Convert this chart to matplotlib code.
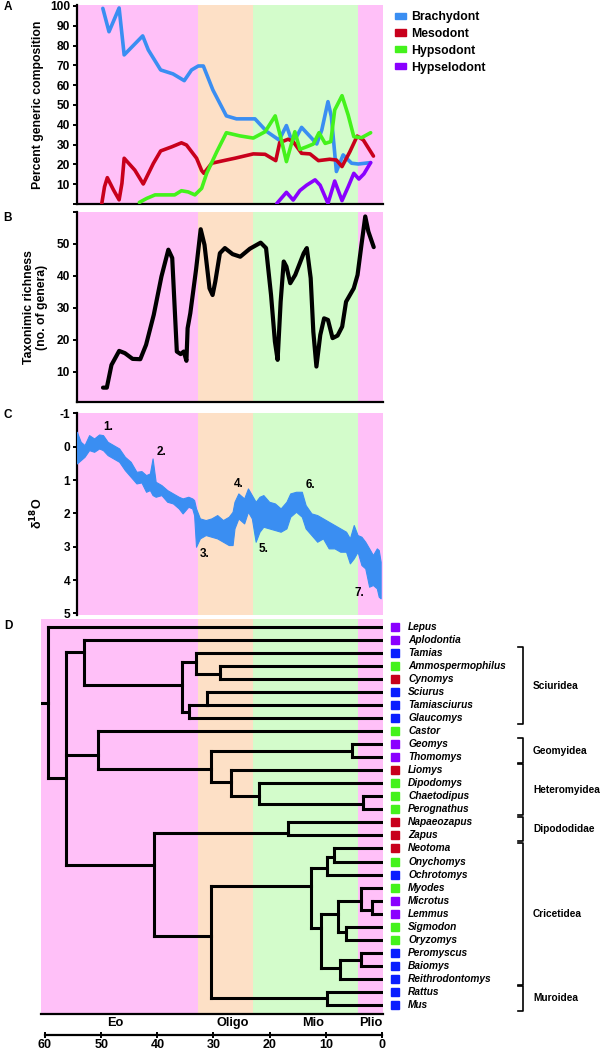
import matplotlib
matplotlib.use("Agg")
import matplotlib.pyplot as plt
from matplotlib.patches import Patch
from matplotlib.transforms import blended_transform_factory

plt.rcParams['font.family'] = ['Liberation Sans', 'DejaVu Sans']
plt.rcParams['font.weight'] = 'bold'
plt.rcParams['axes.labelweight'] = 'bold'
plt.rcParams['axes.unicode_minus'] = False

# epoch shading (Ma)
pink = '#ffc0f8'
peach = '#fde0c6'
mint = '#d3fccb'
epoch_bounds = [32.8, 23.0, 4.3]
epoch_names = ['Eo', 'Oligo', 'Mio', 'Plio']
epoch_label_t = [47.5, 26.5, 12.3, 2.0]

# ---- A: percent generic composition
brachy_t = [49.7, 48.6, 46.8, 45.9, 42.6, 41.6, 39.4, 37.2, 35.2, 33.9, 32.7, 31.8, 30.1, 27.7, 25.9,
            22.6, 20.5, 18.3, 17.0, 16.1, 15.2, 14.3, 12.5, 11.6, 10.7, 9.6, 9.0, 8.1, 6.9, 5.4, 4.2, 2.0]
brachy_v = [98.8, 87, 99, 75.3, 84.9, 77.8, 67.7, 65.7, 62.3, 67.7, 69.7, 69.7, 57.6, 44.5, 43.0,
            43.0, 36.6, 32.3, 39.6, 32.3, 34.0, 38.7, 33.2, 30.3, 37.4, 51.7, 44.1, 16.4, 24.8, 20.6, 20.2, 20.9]
meso_t = [49.9, 49.4, 48.9, 47.8, 46.8, 46.3, 45.9, 44.0, 42.5, 40.7, 39.4, 37.4, 35.7, 34.8, 33.0, 32.1,
          31.7, 30.3, 27.7, 26.2, 22.9, 20.8, 18.9, 18.2, 16.7, 15.8, 14.3, 12.8, 11.3, 9.3, 8.1, 7.1,
          5.7, 4.4, 3.3, 1.5]
meso_v = [0.0, 8.7, 13.3, 7.1, 2.1, 10.4, 23.1, 17.1, 10.1, 20.5, 26.8, 28.9, 30.9, 29.8, 23.1, 16.9,
          15.5, 20.6, 22.2, 23.1, 25.3, 25.1, 21.9, 31.0, 32.7, 31.5, 25.6, 25.3, 21.9, 22.6, 22.2, 18.9,
          26.4, 34.3, 32.3, 24.2]
hypso_t = [43.2, 41.9, 40.4, 36.9, 35.7, 34.5, 33.3, 32.1, 31.2, 29.4, 27.7, 25.3, 22.9, 20.8, 19.0,
           17.9, 17.0, 15.5, 14.6, 13.4, 12.2, 11.2, 10.1, 9.1, 8.4, 7.1, 6.0, 5.0, 3.6, 2.0]
hypso_v = [0.8, 2.8, 4.6, 4.6, 6.7, 6.1, 4.6, 7.9, 15.5, 26.4, 36.0, 34.4, 33.3, 36.5, 44.5,
           32.3, 21.4, 36.5, 27.6, 28.9, 30.3, 36.0, 30.6, 31.5, 47.5, 54.7, 44.9, 34.0, 33.5, 36.0]
hypsel_t = [18.7, 17.0, 15.8, 14.6, 13.4, 11.9, 11.0, 9.6, 8.4, 7.1, 6.0, 5.0, 4.1, 3.2, 2.0]
hypsel_v = [0.3, 5.9, 2.0, 6.8, 9.5, 12.2, 9.5, 0.3, 11.6, 1.7, 8.7, 15.5, 12.6, 15.2, 20.9]
crown_names = ['Brachydont', 'Mesodont', 'Hypsodont', 'Hypselodont']
crown_colors = ['#3a8ef2', '#c8001c', '#44f21c', '#8a00ff']
tip_square_colors = {'B': '#0a1eff', 'M': '#c8001c', 'H': '#44f21c', 'S': '#8a00ff'}

# ---- B: taxonomic richness
rich_t = [49.67, 48.99, 48.16, 46.79, 45.77, 44.40, 43.03, 42.00, 40.63, 39.26, 38.03, 37.34, 36.52,
          35.84, 35.29, 34.81, 34.60, 34.12, 33.10, 32.27, 31.59, 30.70, 30.15, 29.67, 28.85, 27.96,
          26.59, 25.22, 23.51, 21.59, 20.63, 19.74, 19.05, 18.57, 18.03, 17.48, 17.00, 16.32, 15.43,
          13.92, 13.37, 12.68, 12.21, 11.66, 10.97, 10.29, 9.60, 8.78, 7.89, 7.07, 6.38, 5.01, 4.33,
          3.64, 2.96, 2.41, 1.45]
rich_v = [5.0, 5.0, 12.1, 16.5, 15.8, 14.0, 13.9, 18.4, 27.8, 39.8, 48.2, 45.6, 16.3,
          15.5, 16.3, 13.4, 23.6, 28.3, 41.9, 54.6, 49.7, 36.1, 34.0, 38.2, 47.1, 48.7,
          46.8, 46.0, 48.5, 50.4, 48.7, 34.0, 19.4, 13.7, 31.9, 44.5, 42.9, 37.7, 40.3,
          47.1, 48.7, 39.3, 22.5, 11.6, 21.5, 26.7, 26.2, 20.5, 21.3, 24.1, 31.9, 36.1, 40.3,
          49.7, 58.6, 53.9, 49.0]

# ---- C: d18O envelope (upper / lower edge of the record)
d18_t = [54.33, 53.64, 52.96, 52.14, 51.25, 50.36, 49.67, 48.84, 47.82, 46.79, 45.77, 44.74, 43.71,
         42.82, 42.00, 41.32, 40.84, 40.29, 39.26, 38.23, 37.21, 36.18, 35.49, 34.47, 33.78, 33.44,
         33.10, 32.41, 31.38, 30.36, 29.33, 28.30, 27.27, 26.59, 26.25, 25.56, 24.53, 23.85, 23.16,
         22.48, 21.79, 21.11, 20.08, 19.05, 18.03, 17.00, 16.32, 15.29, 14.26, 13.58, 12.55, 11.52,
         10.49, 9.47, 8.44, 7.41, 6.38, 5.70, 5.01, 4.33, 3.64, 2.96, 2.27, 1.59, 0.90, 0.56, 0.22]
d18_top = [-0.45, -0.15, -0.05, -0.35, -0.25, -0.37, -0.35, -0.15, -0.05, 0.05, 0.30, 0.45, 0.75,
           0.73, 0.85, 0.80, 0.35, 1.05, 1.15, 1.30, 1.40, 1.50, 1.55, 1.50, 1.55, 1.60,
           1.85, 2.15, 2.20, 2.15, 2.05, 2.20, 2.10, 1.95, 1.65, 1.40, 1.55, 1.25, 1.45,
           1.65, 1.50, 1.45, 1.65, 1.70, 1.85, 1.65, 1.40, 1.35, 1.35, 1.75, 2.00, 2.05,
           2.15, 2.25, 2.35, 2.45, 2.55, 2.75, 2.35, 2.65, 2.70, 2.85, 3.05, 3.25, 3.05, 3.10, 3.45]
d18_bot = [0.50, 0.40, 0.30, 0.10, 0.15, 0.05, 0.10, 0.25, 0.35, 0.45, 0.70, 0.90, 1.10,
           1.07, 1.35, 1.30, 1.45, 1.50, 1.45, 1.65, 1.70, 1.85, 2.00, 1.80, 1.85, 2.05,
           3.00, 2.75, 2.65, 2.70, 2.75, 2.85, 2.95, 2.95, 2.45, 2.15, 2.30, 1.95, 2.15,
           2.85, 2.55, 2.40, 2.45, 2.50, 2.55, 2.45, 2.10, 1.95, 2.10, 2.45, 2.65, 2.85,
           2.75, 3.05, 3.05, 3.15, 3.15, 3.50, 3.35, 3.15, 3.55, 3.65, 4.20, 4.15, 4.25, 4.50, 4.55]
event_labels = ['1.', '2.', '3.', '4.', '5.', '6.', '7.']
event_t = [48.8, 39.3, 31.5, 25.5, 21.1, 12.7, 4.0]
event_v = [-0.6, 0.15, 3.23, 1.13, 3.07, 1.15, 4.4]

# ---- D: phylogeny
tips = ['Lepus', 'Aplodontia', 'Tamias', 'Ammospermophilus', 'Cynomys', 'Sciurus', 'Tamiasciurus',
        'Glaucomys', 'Castor', 'Geomys', 'Thomomys', 'Liomys', 'Dipodomys', 'Chaetodipus',
        'Perognathus', 'Napaeozapus', 'Zapus', 'Neotoma', 'Onychomys', 'Ochrotomys', 'Myodes',
        'Microtus', 'Lemmus', 'Sigmodon', 'Oryzomys', 'Peromyscus', 'Baiomys', 'Reithrodontomys',
        'Rattus', 'Mus']
tip_crown = ['S', 'S', 'B', 'H', 'M', 'B', 'B', 'B', 'H', 'S', 'S', 'M', 'H', 'H', 'H', 'M', 'M',
             'M', 'H', 'B', 'H', 'S', 'S', 'H', 'H', 'B', 'B', 'B', 'B', 'B']
# node: (age Ma, row position of its branch, children)
nodes = {
    'root': (59.45, 5.83, ['Lepus', 'N1']),
    'N1': (56.25, 11.61, ['N2', 'N9', 'N3']),
    'N2': (53.1, 1.90, ['Aplodontia', 'N4']),
    'N4': (35.6, 4.45, ['N5', 'N6']),
    'N5': (33.1, 2.66, ['Tamias', 'N7']),
    'N7': (28.8, 3.63, ['Ammospermophilus', 'Cynomys']),
    'N6': (34.3, 6.50, ['N8', 'Glaucomys']),
    'N8': (31.2, 5.99, ['Sciurus', 'Tamiasciurus']),
    'N9': (50.6, 9.82, ['Castor', 'N10']),
    'N10': (30.4, 10.90, ['N11', 'N12']),
    'N11': (5.4, 9.52, ['Geomys', 'Thomomys']),
    'N12': (26.9, 11.87, ['Liomys', 'N13']),
    'N13': (21.8, 12.97, ['Dipodomys', 'N14']),
    'N14': (3.4, 13.61, ['Chaetodipus', 'Perognathus']),
    'N3': (40.6, 18.27, ['N15', 'N16']),
    'N15': (16.7, 15.81, ['Napaeozapus', 'Zapus']),
    'N16': (30.4, 23.71, ['N17', 'N18']),
    'N18': (9.8, 28.5, ['Rattus', 'Mus']),
    'N17': (12.6, 19.88, ['N19', 'N20']),
    'N19': (9.8, 18.52, ['N21', 'Ochrotomys']),
    'N21': (8.6, 17.63, ['Neotoma', 'Onychomys']),
    'N20': (10.8, 23.08, ['N22', 'N23']),
    'N22': (7.8, 22.05, ['N24', 'N25']),
    'N24': (3.8, 21.0, ['Myodes', 'N26']),
    'N26': (1.7, 21.72, ['Microtus', 'Lemmus']),
    'N25': (6.4, 23.38, ['Sigmodon', 'Oryzomys']),
    'N23': (7.4, 26.19, ['N27', 'Reithrodontomys']),
    'N27': (3.8, 25.56, ['Peromyscus', 'Baiomys']),
}
clades = ['Sciuridea', 'Geomyidea', 'Heteromyidea', 'Dipododidae', 'Cricetidea', 'Muroidea']
clade_rows = [(2, 7), (9, 10), (11, 14), (15, 16), (17, 27), (28, 29)]
time_ticks = [60, 50, 40, 30, 20, 10, 0]


def shade(ax):
    ax.axvspan(70, epoch_bounds[0], color=pink, lw=0, zorder=0)
    ax.axvspan(epoch_bounds[0], epoch_bounds[1], color=peach, lw=0, zorder=0)
    ax.axvspan(epoch_bounds[1], epoch_bounds[2], color=mint, lw=0, zorder=0)
    ax.axvspan(epoch_bounds[2], -5, color=pink, lw=0, zorder=0)


def style_left(ax, bottom=True):
    for s in ['top', 'right']:
        ax.spines[s].set_visible(False)
    ax.spines['bottom'].set_visible(bottom)
    ax.spines['left'].set_linewidth(1.6)
    ax.spines['bottom'].set_linewidth(1.6)
    ax.set_xticks([])
    ax.tick_params(axis='y', length=3, width=1.4, labelsize=8.6, pad=2)
    plt.setp(ax.get_yticklabels(), fontweight='bold')


W, H = 600.0, 1050.0
fig = plt.figure(figsize=(6, 10.5), dpi=100)

def box(x0, y0, x1, y1):
    return [x0 / W, 1 - y1 / H, (x1 - x0) / W, (y1 - y0) / H]

# A
axA = fig.add_axes(box(77, 5, 383, 204))
shade(axA)
for t, v, c in zip([brachy_t, meso_t, hypso_t, hypsel_t], [brachy_v, meso_v, hypso_v, hypsel_v], crown_colors):
    axA.plot(t, v, color=c, lw=2.6, solid_joinstyle='round', solid_capstyle='round', zorder=3)
axA.set_xlim(54.3, -0.2)
axA.set_ylim(0, 100.5)
axA.set_yticks(range(0, 101, 10))
axA.set_yticklabels([''] + [str(v) for v in range(10, 101, 10)])
style_left(axA)
axA.set_ylabel('Percent generic composition', fontsize=8.8, labelpad=4)
handles = [Patch(color=c) for c in crown_colors]
fig.legend(handles, crown_names, loc='upper left', bbox_to_anchor=(395 / W, 1 - 11 / H), frameon=False,
           fontsize=8.8, handlelength=0.9, handleheight=0.4, handletextpad=0.4, labelspacing=0.4,
           borderpad=0, borderaxespad=0)

# B
axB = fig.add_axes(box(77, 212, 383, 402))
shade(axB)
axB.plot(rich_t, rich_v, color='black', lw=3.0, solid_joinstyle='round', solid_capstyle='round', zorder=3)
axB.set_xlim(54.3, -0.2)
axB.set_ylim(0.5, 60)
axB.set_yticks([10, 20, 30, 40, 50, 60])
axB.set_yticklabels(['10', '20', '30', '40', '50', ''])
style_left(axB)
axB.set_ylabel('Taxonimic richness\n(no. of genera)', fontsize=8.8, labelpad=6, linespacing=1.1)

# C
axC = fig.add_axes(box(77, 412.5, 383, 615))
shade(axC)
axC.fill_between(d18_t, d18_top, d18_bot, color='#3a8ef2', lw=0.8, edgecolor='#3a8ef2', zorder=3)
for lab, t, v in zip(event_labels, event_t, event_v):
    axC.text(t, v, lab, fontsize=8.5, ha='center', va='center', zorder=4)
axC.set_xlim(54.3, -0.2)
axC.set_ylim(5.05, -1.03)
axC.set_yticks(range(-1, 6))
style_left(axC, bottom=False)
axC.set_ylabel('δ$^{\\mathbf{18}}$O', fontsize=9, labelpad=10)

# D
axD = fig.add_axes(box(41, 619, 383, 1014))
shade(axD)
axD.set_xlim(60.7, -0.2)
axD.set_ylim(29.7, -0.61)
tip_t = -0.2
lw_tree = 2.2


def node_pos(name):
    if name in nodes:
        return nodes[name][0], nodes[name][1]
    return tip_t, tips.index(name)


for name, (age, row, kids) in nodes.items():
    rows = [node_pos(k)[1] for k in kids]
    axD.plot([age, age], [min(rows), max(rows)], color='black', lw=lw_tree, solid_capstyle='projecting', zorder=3)
    for k in kids:
        kt, kr = node_pos(k)
        axD.plot([age, kt], [kr, kr], color='black', lw=lw_tree, solid_capstyle='projecting', zorder=3)
axD.plot([60.5, nodes['root'][0]], [nodes['root'][1]] * 2, color='black', lw=lw_tree, zorder=3)

for s in ['top', 'right', 'left']:
    axD.spines[s].set_visible(False)
axD.spines['bottom'].set_linewidth(1.6)
axD.set_xticks([])
axD.set_yticks([])

tr = blended_transform_factory(fig.transFigure, axD.transData)
for i, (name, cr) in enumerate(zip(tips, tip_crown)):
    axD.plot([395 / W], [i], marker='s', ms=6, color=tip_square_colors[cr], transform=tr, clip_on=False)
    axD.text(408 / W, i, name, transform=tr, fontsize=7.3, style='italic', va='center', ha='left')
for name, (r0, r1) in zip(clades, clade_rows):
    y0, y1 = r0 - 0.45, r1 + 0.45
    axD.plot([518 / W, 523 / W, 523 / W, 518 / W], [y0, y0, y1, y1], color='black', lw=1.2,
             transform=tr, clip_on=False)
    axD.text(533 / W, (r0 + r1) / 2, name, transform=tr, fontsize=7.3, va='center', ha='left')

for name, t in zip(epoch_names, epoch_label_t):
    fig.text((382 - 5.617 * t) / W, 1 - 1023 / H, name, fontsize=9.2, ha='center', va='center')

# time axis
axT = fig.add_axes(box(45, 1034, 382, 1035))
axT.set_xlim(60, 0)
axT.set_yticks([])
for s in ['top', 'right', 'left']:
    axT.spines[s].set_visible(False)
axT.spines['bottom'].set_linewidth(1.6)
axT.set_xticks(time_ticks)
axT.tick_params(axis='x', direction='inout', length=4, width=1.4, labelsize=9, pad=1)
plt.setp(axT.get_xticklabels(), fontweight='bold')
axT.patch.set_alpha(0)

# panel letters
for lab, y in zip(['A', 'B', 'C', 'D'], [7, 218, 415, 626]):
    fig.text(8 / W, 1 - y / H, lab, fontsize=8.5, ha='center', va='center')

fig.savefig('out.png', dpi=100)
